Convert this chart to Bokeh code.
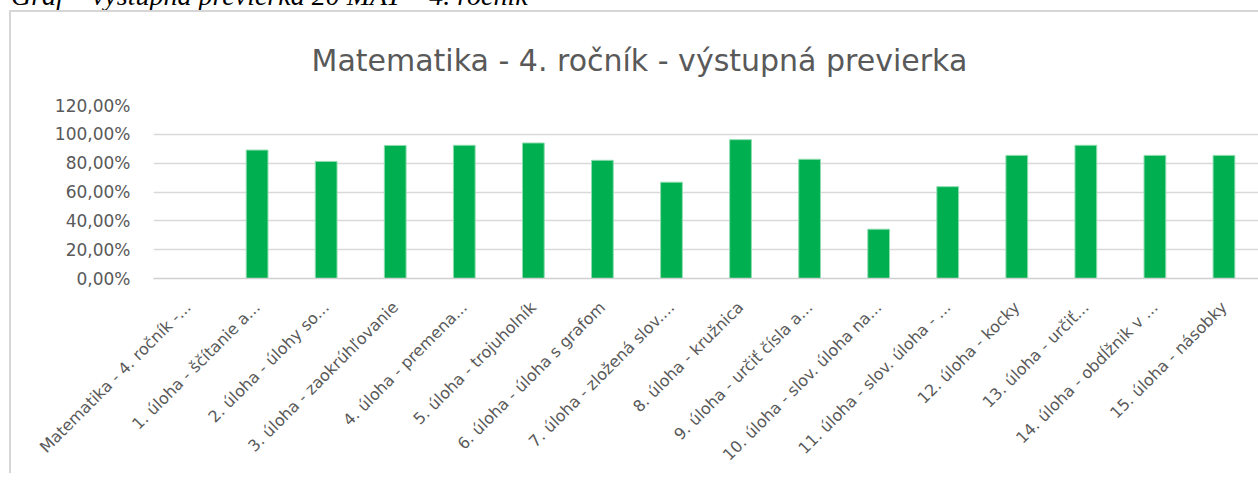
import math
from bokeh.plotting import figure
from bokeh.models import FactorRange, Range1d, FixedTicker, Div, ColumnDataSource
from bokeh.layouts import column
from bokeh.embed import file_html
from bokeh.resources import INLINE

caption = "Graf – výstupná previerka 20 MAT – 4. ročník"
chart_title = "Matematika - 4. ročník - výstupná previerka"

categories = [
    "Matematika - 4. ročník -...",
    "1. úloha - ščítanie a...",
    "2. úloha - úlohy so...",
    "3. úloha - zaokrúhľovanie",
    "4. úloha - premena...",
    "5. úloha - trojuholník",
    "6. úloha - úloha s grafom",
    "7. úloha - zložená slov....",
    "8. úloha - kružnica",
    "9. úloha - určiť čísla a...",
    "10. úloha - slov. úloha na...",
    "11. úloha - slov. úloha - ...",
    "12. úloha - kocky",
    "13. úloha - určiť...",
    "14. úloha - obdĺžnik v ...",
    "15. úloha - násobky",
]
values = [0.0, 89.1, 81.2, 92.3, 92.4, 94.0, 82.0, 66.8, 96.3, 82.7,
          34.2, 63.7, 85.4, 92.4, 85.4, 85.4]

y_ticks = [0, 20, 40, 60, 80, 100, 120]
y_tick_labels = ["0,00%", "20,00%", "40,00%", "60,00%", "80,00%", "100,00%", "120,00%"]

source = ColumnDataSource(data=dict(cat=categories, val=values))

p = figure(
    x_range=FactorRange(*categories),
    y_range=Range1d(0, 120),
    width=1249, height=463,
    output_backend="svg", toolbar_location=None,
    min_border_left=142, min_border_right=2,
    min_border_top=92, min_border_bottom=197,
    margin=(1, 0, 0, 9),
    styles={"border-left": "2px solid #d6d6d6", "border-top": "2px solid #d6d6d6"},
)
p.outline_line_color = None

p.vbar(x="cat", top="val", width=0.315, source=source,
       fill_color="#00B050", line_color="#8fdcb0", line_width=1)

p.title.text = chart_title
p.title.text_font = "DejaVu Sans"
p.title.text_font_size = "30px"
p.title.text_font_style = "normal"
p.title.text_color = "#595959"
p.title.align = "left"
p.title.offset = 158
p.title.standoff = 56

# y axis
p.yaxis.ticker = FixedTicker(ticks=y_ticks)
p.yaxis.major_label_overrides = {t: l for t, l in zip(y_ticks, y_tick_labels)}
p.yaxis.axis_line_color = None
p.yaxis.major_tick_line_color = None
p.yaxis.minor_tick_line_color = None
p.yaxis.major_label_standoff = 17
p.yaxis.major_label_text_font = "DejaVu Sans"
p.yaxis.major_label_text_font_size = "17px"
p.yaxis.major_label_text_color = "#595959"

# x axis
p.xaxis.axis_line_color = "#d0d0d0"
p.xaxis.axis_line_width = 1.3
p.xaxis.major_tick_line_color = None
p.xaxis.minor_tick_line_color = None
p.xaxis.major_label_orientation = math.pi / 4
p.xaxis.major_label_standoff = 20
p.xaxis.major_label_text_font = "DejaVu Sans"
p.xaxis.major_label_text_font_size = "16px"
p.xaxis.major_label_text_color = "#595959"

p.xgrid.grid_line_color = None
p.ygrid.grid_line_color = "#d9d9d9"
p.ygrid.grid_line_width = 1.3
p.ygrid.ticker = FixedTicker(ticks=y_ticks)

cap = Div(
    text=caption, width=620, height=26, margin=(-17, 0, 0, 11),
    styles={"font-family": "Liberation Serif", "font-style": "italic",
            "font-size": "28px", "line-height": "26px", "color": "#000000",
            "white-space": "nowrap"},
)

layout = column(cap, p, spacing=0)
open("out.html", "w").write(file_html(layout, INLINE))
